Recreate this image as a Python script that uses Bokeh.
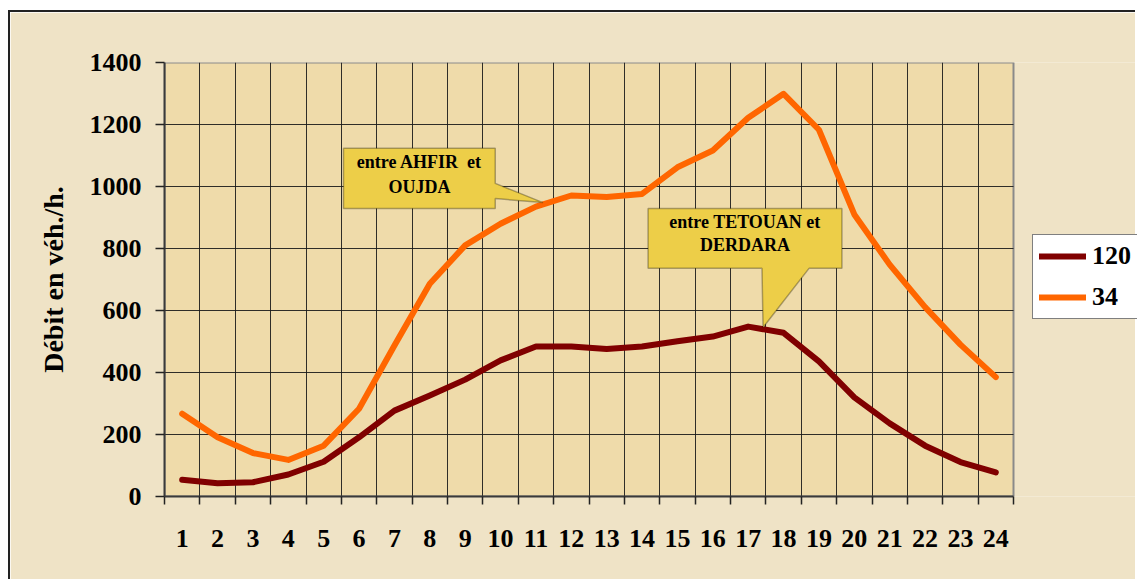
from bokeh.plotting import figure
from bokeh.models import FixedTicker, Range1d, Legend, LegendItem, PolyAnnotation, Label
from bokeh.embed import file_html
from bokeh.resources import INLINE

# ---- data ----
hours = list(range(1, 25))
route_120 = [54, 43, 46, 71, 112, 191, 277, 326, 377, 439, 484, 484,
             476, 484, 501, 516, 548, 528, 436, 320, 236, 164, 111, 78]
route_34 = [267, 191, 140, 118, 164, 283, 487, 686, 810, 880, 935, 971,
            966, 976, 1062, 1116, 1222, 1299, 1183, 910, 748, 611, 490, 385]
series_names = ["120", "34"]
y_ticks = [0, 200, 400, 600, 800, 1000, 1200, 1400]
y_title = "Débit en véh./h."
callout_1_text = ["entre AHFIR\u00a0 et", "OUJDA"]
callout_2_text = ["entre TETOUAN et", "DERDARA"]

FONT = "Liberation Serif"
C120 = "#800000"
C34 = "#FF6600"
OUTER = "#EFE3C6"
INNER = "#EFDBAA"

# layout (pixels)
W, H = 1127, 569
LEFT, TOP, BOTTOM = 154, 50, 85
PLOT_PX = 849                      # width of the hourly plotting area
frame_px = W - LEFT                # frame runs to the right edge (legend lives there)
x_start = hours[0] - 0.5
x_stop = hours[-1] + 0.5
x_end = x_start + (x_stop - x_start) * frame_px / PLOT_PX

p = figure(width=W, height=H, output_backend="svg", toolbar_location=None,
           x_range=Range1d(x_start, x_end),
           y_range=Range1d(y_ticks[0], y_ticks[-1]),
           min_border_left=LEFT, min_border_right=0,
           min_border_top=TOP, min_border_bottom=BOTTOM)

p.border_fill_color = OUTER
p.background_fill_color = OUTER
p.outline_line_color = None
p.styles = {"border-left": "2px solid #222222", "border-top": "2px solid #222222",
            "margin-left": "8px", "margin-top": "10px"}

boundaries = [h - 0.5 for h in hours] + [x_stop]

# plotting-area background + grey border
p.quad(left=[x_start], right=[x_stop], bottom=[y_ticks[0]], top=[y_ticks[-1]],
       fill_color=INNER, line_color="#8a8a8a", line_width=2, level="image")

# x axis: labels at centres, ticks at boundaries (minor ticks)
p.xaxis.ticker = FixedTicker(ticks=hours, minor_ticks=boundaries)
p.xaxis.bounds = (x_start, x_stop)
p.xaxis.major_tick_out = 0
p.xaxis.major_tick_in = 0
p.xaxis.minor_tick_out = 8
p.xaxis.minor_tick_in = 0
p.xaxis.minor_tick_line_color = "#222222"
p.xaxis.minor_tick_line_width = 1.5
p.xaxis.major_label_standoff = 25
p.xgrid.ticker = FixedTicker(ticks=boundaries[1:-1])

# y axis
p.yaxis.ticker = FixedTicker(ticks=y_ticks)
p.yaxis.major_tick_out = 9
p.yaxis.major_tick_in = 0
p.yaxis.minor_tick_out = 0
p.yaxis.minor_tick_in = 0
p.yaxis.major_tick_line_color = "#222222"
p.yaxis.major_tick_line_width = 1.5
p.yaxis.major_label_standoff = 14
p.yaxis.axis_label = y_title
p.yaxis.axis_label_standoff = 18
p.yaxis.axis_label_text_font = FONT
p.yaxis.axis_label_text_font_style = "bold"
p.yaxis.axis_label_text_font_size = "28px"
p.yaxis.axis_label_text_color = "#000000"

for ax in (p.xaxis[0], p.yaxis[0]):
    ax.axis_line_color = "#3a3a3a"
    ax.axis_line_width = 2
    ax.major_label_text_font = FONT
    ax.major_label_text_font_style = "bold"
    ax.major_label_text_font_size = "26px"
    ax.major_label_text_color = "#000000"

p.xgrid.grid_line_color = "#1a1a1a"
p.xgrid.grid_line_width = 1
p.xgrid.grid_line_alpha = 0.9
p.ygrid.grid_line_color = None
# horizontal grid lines limited to the hourly area
p.segment(x0=[x_start] * (len(y_ticks) - 2), x1=[x_stop] * (len(y_ticks) - 2),
          y0=y_ticks[1:-1], y1=y_ticks[1:-1], line_color="#1a1a1a",
          line_width=1, line_alpha=0.9, level="underlay")

r120 = p.line(hours, route_120, line_color=C120, line_width=6, line_join="round", line_cap="round")
r34 = p.line(hours, route_34, line_color=C34, line_width=6, line_join="round", line_cap="round")


def bubble(xs, ys, x_centre, lines, ly):
    p.add_layout(PolyAnnotation(xs=xs, ys=ys, fill_color="#EDCE48", fill_alpha=1,
                                line_color="#000000", line_width=1.5))
    for t, yy in zip(lines, ly):
        p.add_layout(Label(x=x_centre, y=yy, text=t, text_font=FONT,
                           text_font_style="bold", text_font_size="18px",
                           text_align="center", text_baseline="middle",
                           text_color="#000000"))


# callout 1 : box + tail pointing right to the orange line
x0, x1, y0, y1 = 5.56, 9.85, 929, 1123
bubble([x0, x1, x1, 11.2, x1, x1, x0], [y1, y1, 1010, 948, 961, y0, y0],
       (x0 + x1) / 2, callout_1_text, [1078, 998])

# callout 2 : box + tail pointing down to the dark red line
x0, x1, y0, y1 = 14.17, 19.65, 736, 929
bubble([x0, x1, x1, 18.72, 17.42, 17.39, x0], [y1, y1, y0, y0, 545, y0, y0],
       (x0 + x1) / 2, callout_2_text, [885, 810])

legend = Legend(items=[LegendItem(label=series_names[0], renderers=[r120]),
                       LegendItem(label=series_names[1], renderers=[r34])],
                location=(PLOT_PX + 19, 177), orientation="vertical")
legend.label_text_font = FONT
legend.label_text_font_style = "bold"
legend.label_text_font_size = "26px"
legend.label_text_color = "#000000"
legend.glyph_width = 47
legend.glyph_height = 28
legend.label_standoff = 6
legend.label_width = 60
legend.spacing = 11
legend.padding = 6
legend.margin = 0
legend.border_line_color = "#000000"
legend.border_line_width = 1
legend.background_fill_color = "#FFFFFF"
legend.background_fill_alpha = 1
p.add_layout(legend, "center")

open("out.html", "w").write(file_html(p, INLINE))
